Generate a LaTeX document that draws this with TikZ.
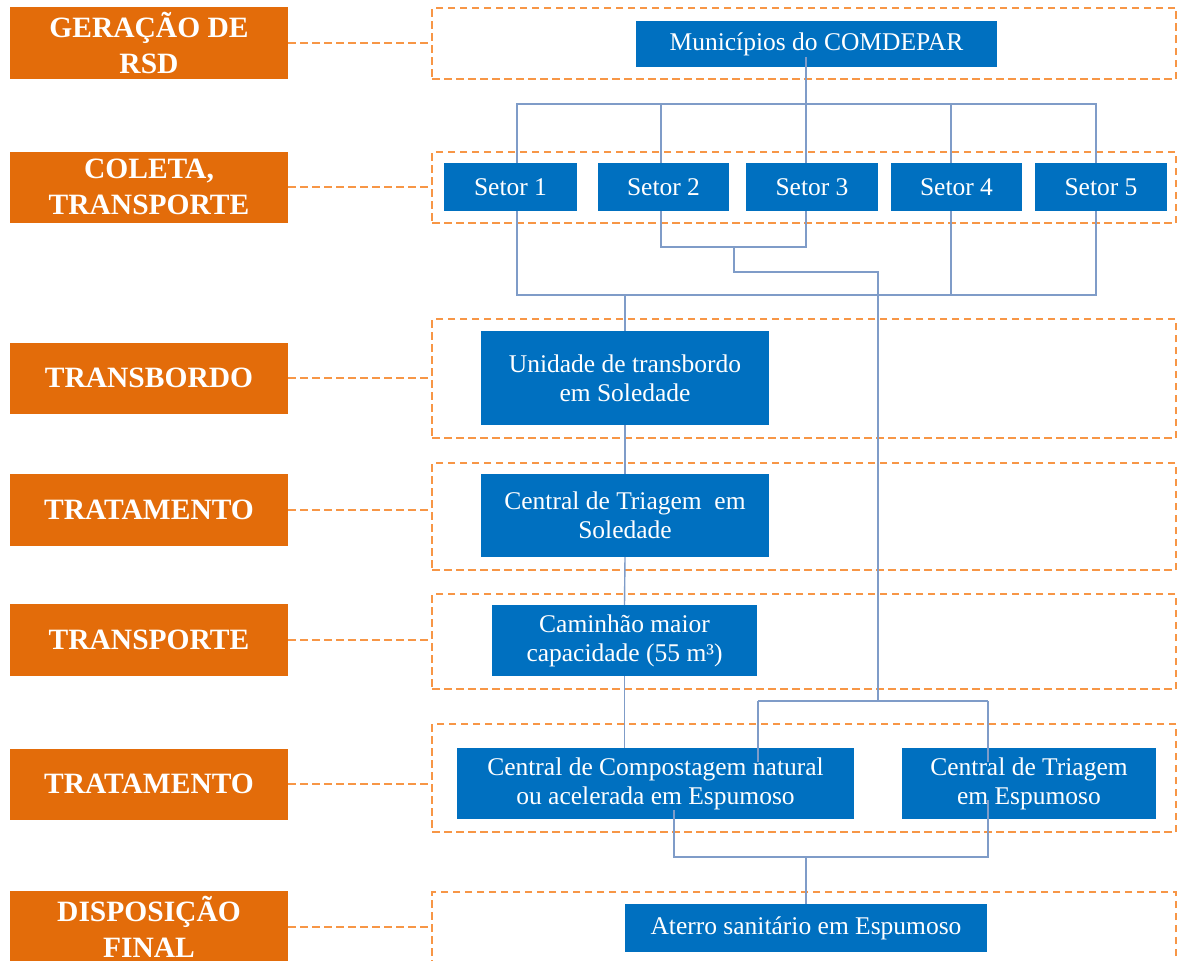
\documentclass[tikz,border=0pt]{standalone}
\usepackage{fontspec}
\setmainfont{Liberation Serif}
\usetikzlibrary{calc}
\definecolor{orgfill}{HTML}{E36C0A}
\definecolor{orgdash}{HTML}{F79646}
\definecolor{bluefill}{HTML}{0070C0}
\definecolor{connc}{HTML}{7F9CC8}
\begin{document}
\begin{tikzpicture}[x=1pt,y=-1pt,
  stage/.style={fill=orgfill,draw=none,text=white,font=\fontsize{29.5}{36}\selectfont\bfseries,align=center,minimum width=278pt,inner sep=0pt},
  band/.style={draw=orgdash,dash pattern=on 7.5pt off 4.5pt,line width=1.5pt,inner sep=0pt,minimum width=744pt},
  link/.style={draw=orgdash,dash pattern=on 7.5pt off 4.5pt,line width=1.5pt},
  proc/.style={fill=bluefill,text=white,font=\fontsize{25.5}{29}\selectfont,align=center,inner sep=0pt},
  conn/.style={draw=connc,line width=1.4pt}]
\useasboundingbox (0,0) rectangle (1178,961);
\clip (0,0) rectangle (1178,961);
\fill[white] (0,0) rectangle (1178,961);
% stage labels
\node[stage,minimum height=72pt] (o1) at (149,43) {GERAÇÃO DE\\RSD};
\node[stage,minimum height=71pt] (o2) at (149,187) {COLETA,\\TRANSPORTE};
\node[stage,minimum height=71pt] (o3) at (149,378) {TRANSBORDO};
\node[stage,minimum height=72pt] (o4) at (149,510) {TRATAMENTO};
\node[stage,minimum height=72pt] (o5) at (149,640) {TRANSPORTE};
\node[stage,minimum height=71pt] (o6) at (149,784) {TRATAMENTO};
\node[stage,minimum height=72pt] (o7) at (149,927) {DISPOSIÇÃO\\FINAL};
% dashed bands
\node[band,minimum height=71pt] (d1) at (804,43.5) {};
\node[band,minimum height=71pt] (d2) at (804,187.5) {};
\node[band,minimum height=119pt] (d3) at (804,378.5) {};
\node[band,minimum height=107pt] (d4) at (804,516.5) {};
\node[band,minimum height=95pt] (d5) at (804,641.5) {};
\node[band,minimum height=108pt] (d6) at (804,778) {};
\node[band,minimum height=100pt] (d7) at (804,942) {};
\foreach \i in {1,...,7}{\draw[link] (o\i.east) -- (o\i.east -| d\i.west);}
% process boxes
\node[proc,minimum width=361pt,minimum height=46pt] (mun) at (816.5,44) {Municípios do COMDEPAR};
\node[proc,minimum width=133pt,minimum height=48pt] (s1) at (510.5,187) {Setor 1};
\node[proc,minimum width=131pt,minimum height=48pt] (s2) at (663.5,187) {Setor 2};
\node[proc,minimum width=132pt,minimum height=48pt] (s3) at (812,187) {Setor 3};
\node[proc,minimum width=131pt,minimum height=48pt] (s4) at (956.5,187) {Setor 4};
\node[proc,minimum width=132pt,minimum height=48pt] (s5) at (1101,187) {Setor 5};
\node[proc,minimum width=288pt,minimum height=94pt] (uni) at (625,378) {Unidade de transbordo\\em Soledade};
\node[proc,minimum width=288pt,minimum height=83pt] (cts) at (625,515.5) {Central de Triagem\ \ em\\Soledade};
\node[proc,minimum width=265pt,minimum height=71pt] (cam) at (624.5,640.5) {Caminhão maior\\capacidade (55 m³)};
\node[proc,minimum width=397pt,minimum height=71pt] (comp) at (655.5,783.5) {Central de Compostagem natural\\ou acelerada em Espumoso};
\node[proc,minimum width=254pt,minimum height=71pt] (cte) at (1029,783.5) {Central de Triagem\\em Espumoso};
\node[proc,minimum width=362pt,minimum height=48pt] (ate) at (806,928) {Aterro sanitário em Espumoso};
% guide coordinates
\coordinate (xa) at (517,0);
\coordinate (xb) at (661,0);
\coordinate (xc) at (806,0);
\coordinate (xd) at (951,0);
\coordinate (xe) at (1096,0);
\coordinate (xf) at (734,0);
\coordinate (xg) at (878,0);
\coordinate (xh) at (758,0);
\coordinate (xi) at (988,0);
\coordinate (xj) at (674,0);
\coordinate (ya) at (0,104);
\coordinate (yb) at (0,295);
\coordinate (yc) at (0,247);
\coordinate (yd) at (0,272);
\coordinate (ye) at (0,701);
\coordinate (yf) at (0,857);
% connectors
\draw[conn] ($(mun.south -| xc)+(0,-10)$) -- (s3.north -| xc);
\draw[conn] (s1.north -| xa) -- (xa |- ya) -- (xe |- ya) -- (s5.north -| xe);
\draw[conn] (xb |- ya) -- (s2.north -| xb);
\draw[conn] (xd |- ya) -- (s4.north -| xd);
\draw[conn] (s1.south -| xa) -- (xa |- yb) -- (xe |- yb) -- (s5.south -| xe);
\draw[conn] (s4.south -| xd) -- (xd |- yb);
\draw[conn] (uni.north |- yb) -- (uni.north);
\draw[conn] (s2.south -| xb) -- (xb |- yc) -- (xc |- yc) -- (s3.south -| xc);
\draw[conn] (xf |- yc) -- (xf |- yd) -- (xg |- yd) -- (xg |- ye);
\draw[conn] (xh |- ye) -- (xi |- ye);
\draw[conn] (xh |- ye) -- ($(comp.north -| xh)+(0,14)$);
\draw[conn] (xi |- ye) -- ($(cte.north -| xi)+(0,14)$);
\draw[conn] (uni.south) -- (cts.north);
\draw[conn] (cts.south) -- (cam.north);
\draw[conn] (cam.south) -- (cam.south |- comp.north);
\draw[conn] ($(comp.south -| xj)+(0,-9)$) -- (xj |- yf) -- (xi |- yf) -- ($(cte.south -| xi)+(0,-19)$);
\draw[conn] (xc |- yf) -- (ate.north -| xc);
\end{tikzpicture}
\end{document}
